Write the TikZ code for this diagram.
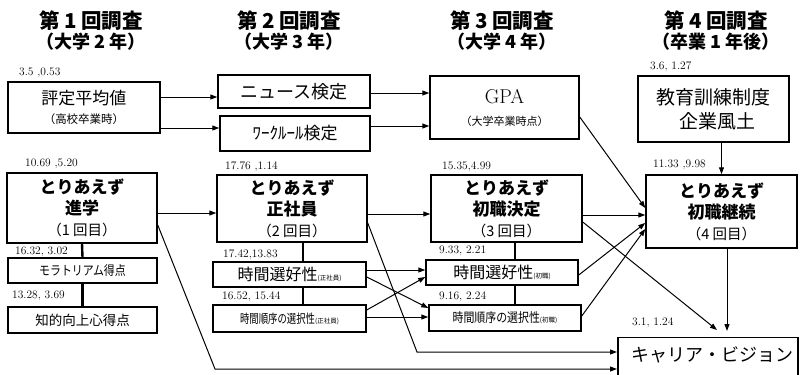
\documentclass[tikz,border=0pt]{standalone}
\usepackage{fontspec}
\usepackage{graphicx}
\usetikzlibrary{arrows.meta}
\newfontfamily\jp{Noto Sans CJK JP}
\newcommand{\fs}[2]{\fontsize{#1}{#2}\selectfont}
\newcommand{\cnd}[2]{\scalebox{#1}[1]{#2}}
\begin{document}
\begin{tikzpicture}[x=1pt,y=-1pt,
  box/.style={draw, line width=1.5pt, inner sep=0pt, align=center, font=\jp},
  bigbox/.style={box, font=\jp\bfseries\fs{17}{21}},
  arr/.style={line width=1pt, -{Triangle[length=7pt,width=5pt]}},
  link/.style={line width=2.4pt},
  num/.style={anchor=west, inner sep=0pt, font=\fs{11.5}{12}},
  hdr/.style={align=center, inner sep=0pt, font=\jp\bfseries}]
\useasboundingbox (0,0) rectangle (807,375);
\clip (0,0) rectangle (807,375);

% headers
\node[hdr] (h1a) at (91,21) {\fs{20.5}{22}第 1 回調査};
\node[hdr] (h1b) at (91,41.5) {\fs{18}{20}（大学 2 年）};
\node[hdr] (h2a) at (289,21) {\fs{20.5}{22}第 2 回調査};
\node[hdr] (h2b) at (289,41.5) {\fs{18}{20}（大学 3 年）};
\node[hdr] (h3a) at (502,21) {\fs{20.5}{22}第 3 回調査};
\node[hdr] (h3b) at (502,41.5) {\fs{18}{20}（大学 4 年）};
\node[hdr] (h4a) at (716,21) {\fs{20.5}{22}第 4 回調査};
\node[hdr] (h4b) at (716,41.5) {\fs{18}{20}（卒業 1 年後）};

% column 1
\node[box, minimum width=152pt, minimum height=51pt, font=\jp\fs{17}{20}] (hyo) at (84,107.5)
  {評定平均値\\[-1pt]{\fs{11.5}{20}（高校卒業時）}};
\node[bigbox, minimum width=150pt, minimum height=70pt] (shin) at (82,208)
  {とりあえず\\進学\\{\mdseries\fs{14.5}{21}（1 回目）}};
\node[box, minimum width=149pt, minimum height=25pt] (mora) at (82.5,270.5)
  {\cnd{0.84}{\fs{13}{14}モラトリアム得点}};
\node[box, minimum width=149pt, minimum height=26pt] (chi) at (82.5,320)
  {\fs{13.5}{14}知的向上心得点};

% column 2
\node[box, minimum width=152pt, minimum height=33pt] (news) at (294,91.5)
  {\fs{18}{20}ニュース検定};
\node[box, minimum width=150pt, minimum height=35pt] (work) at (295,133.5)
  {\fs{17}{20}ﾜｰｸﾙｰﾙ検定};
\node[bigbox, minimum width=150pt, minimum height=67pt] (sei) at (292,208.5)
  {とりあえず\\正社員\\{\mdseries\fs{14.5}{21}（2 回目）}};
\node[box, minimum width=153pt, minimum height=25pt] (jk2) at (289.5,274.5)
  {\fs{16}{18}時間選好性{\fs{6.5}{8}(正社員)}};
\node[box, minimum width=153pt, minimum height=27pt] (jj2) at (289.5,318.5)
  {\cnd{0.75}{\fs{12.5}{14}時間順序の選択性}{\fs{6.5}{8}(正社員)}};

% column 3
\node[box, minimum width=149pt, minimum height=63pt, font=\jp\fs{11}{22}] (gpa) at (504.5,107.5)
  {{\rmfamily\fs{20}{22}GPA}\\[0pt]（大学卒業時点）};
\node[bigbox, minimum width=151pt, minimum height=67pt] (ket) at (506.5,208.5)
  {とりあえず\\初職決定\\{\mdseries\fs{14.5}{21}（3 回目）}};
\node[box, minimum width=152pt, minimum height=25pt] (jk3) at (502,272.5)
  {\fs{16}{18}時間選好性{\fs{6.5}{8}(初職)}};
\node[box, minimum width=152pt, minimum height=26pt] (jj3) at (505,318)
  {\cnd{0.84}{\fs{13}{14}時間順序の選択性}{\fs{6.5}{8}(初職)}};

% column 4
\node[box, minimum width=151pt, minimum height=66pt, font=\jp\fs{19}{24}] (kyo) at (713.5,109)
  {教育訓練制度\\\hspace*{8pt}企業風土};
\node[bigbox, minimum width=151pt, minimum height=73pt] (kei) at (721.5,211.5)
  {とりあえず\\初職継続\\{\mdseries\fs{14.5}{21}（4 回目）}};
\node[box, minimum width=180pt, minimum height=50pt, anchor=north west] (car) at (617,336.5)
  {};
\node[font=\jp, inner sep=0pt] (cart) at (712,355) {\fs{18}{20}キャリア・ビジョン};

% numbers
\node[num] (n1) at (19,73) {3.5 ,0.53};
\node[num] (n2) at (25,164) {10.69 ,5.20};
\node[num] (n3) at (15,252) {16.32, 3.02};
\node[num] (n4) at (12,296) {13.28, 3.69};
\node[num] (n5) at (225,167) {17.76 ,1.14};
\node[num] (n6) at (223,254.5) {17.42,13.83};
\node[num] (n7) at (222,297) {16.52, 15.44};
\node[num] (n8) at (442,167) {15.35,4.99};
\node[num] (n9) at (439,251) {9.33, 2.21};
\node[num] (n10) at (439,297) {9.16, 2.24};
\node[num] (n11) at (650,67) {3.6, 1.27};
\node[num] (n12) at (653,165) {11.33 ,9.98};
\node[num] (n13) at (632,323) {3.1, 1.24};

% vertical links
\draw[link] (shin.south) -- (mora.north);
\draw[link] (mora.south) -- (chi.north);
\draw[link] ([xshift=11pt]sei.south) -- ([xshift=11pt]sei.south |- jk2.north);
\draw[link] ([xshift=11pt]sei.south |- jk2.south) -- ([xshift=11pt]sei.south |- jj2.north);
\draw[link] ([xshift=8.5pt]ket.south) -- ([xshift=8.5pt]ket.south |- jk3.north);
\draw[link] ([xshift=8.5pt]ket.south |- jk3.south) -- ([xshift=8.5pt]ket.south |- jj3.north);

% arrows row 1
\draw[arr] (hyo.east |- 0,97) -- (news.west |- 0,97);
\draw[arr] (hyo.east |- 0,128) -- (work.west |- 0,128);
\draw[arr] (news.east |- 0,93) -- (gpa.west |- 0,93);
\draw[arr] (work.east |- 0,126) -- (gpa.west |- 0,126);
\draw[arr] (gpa.east |- 0,117) -- (kei.west |- 0,208);
\draw[arr] (kyo.south -| kei.north) -- (kei.north);

% arrows row 2
\draw[arr] (shin.east |- 0,213) -- (sei.west |- 0,213);
\draw[arr] (sei.east |- 0,214) -- (ket.west |- 0,214);
\draw[arr] (ket.east |- 0,215) -- (kei.west |- 0,215);

% crossing arrows
\draw[arr] (jk2.east |- 0,270) -- (jk3.west |- 0,270);
\draw[arr] (jk2.east |- 0,277) -- (jj3.west |- 0,308);
\draw[arr] (jj2.east |- 0,310) -- (jk3.west |- 0,277);
\draw[arr] (jj2.east |- 0,317) -- (jj3.west |- 0,317);
\draw[arr] (jk3.east |- 0,275) -- (kei.west |- 0,223);
\draw[arr] (jj3.east |- 0,316) -- (kei.west |- 0,229);

% to career vision
\draw[arr] (ket.east |- 0,222) -- ([xshift=100pt,yshift=6.5pt]car.north west);
\draw[arr] ([xshift=5.5pt]kei.south) -- ([xshift=5.5pt]kei.south |- 0,331);
\draw[arr] (sei.east |- 0,223) -- (417,352) -- (car.west |- 0,352);
\draw[arr] (shin.east |- 0,225) -- (215,369) -- (car.west |- 0,369);
\end{tikzpicture}
\end{document}
